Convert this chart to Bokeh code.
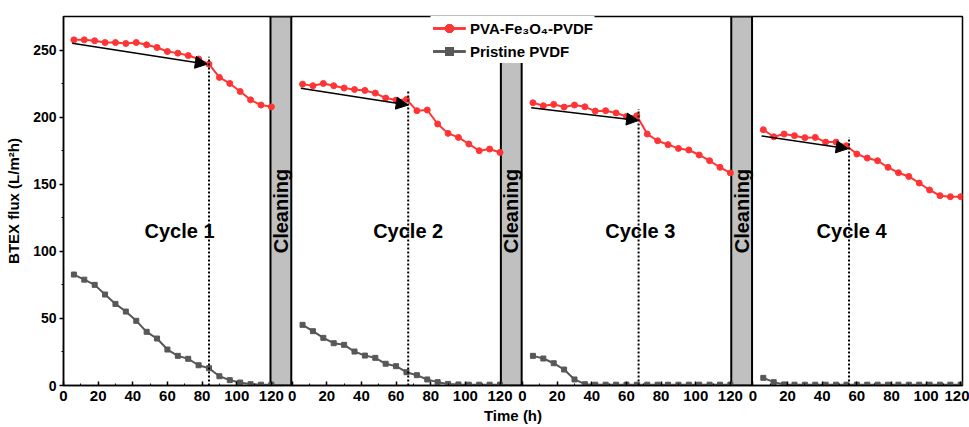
import numpy as np
from bokeh.plotting import figure
from bokeh.models import Range1d, FixedTicker, Arrow, NormalHead
from bokeh.core.properties import value
from bokeh.embed import file_html
from bokeh.resources import INLINE

# ---------------- data ----------------
time_h = [6, 12, 18, 24, 30, 36, 42, 48, 54, 60, 66, 72, 78, 84, 90, 96, 102, 108, 114, 120]

pva_cycle1 = [257.6, 257.6, 256.9, 255.6, 255.6, 254.9, 255.6, 253.9, 251.9, 248.9,
              247.7, 245.9, 243.3, 239.5, 229.6, 225.1, 219.1, 212.9, 209.0, 207.7]
pva_cycle2 = [224.6, 223.4, 225.1, 223.4, 221.7, 220.6, 219.9, 217.9, 214.2, 212.7,
              213.2, 204.8, 205.3, 194.9, 187.9, 184.9, 180.0, 175.0, 176.2, 173.7]
pva_cycle3 = [210.7, 208.5, 209.5, 207.5, 209.0, 207.7, 204.5, 204.8, 203.1, 200.5,
              201.0, 187.4, 182.4, 179.5, 176.7, 175.5, 171.8, 167.5, 162.6, 158.4]
pva_cycle4 = [190.6, 185.4, 187.4, 186.2, 184.7, 184.9, 181.4, 181.4, 178.7, 172.5,
              169.5, 167.5, 162.6, 158.6, 155.8, 150.9, 145.7, 141.5, 140.7, 140.7]

pristine_cycle1 = [82.7, 78.9, 75.0, 67.8, 60.8, 55.1, 48.2, 40.0, 35.0, 26.8,
                   22.1, 19.9, 15.1, 12.9, 6.9, 4.0, 2.2, 1.0, 0.6, 0.6]
pristine_cycle2 = [45.2, 40.5, 35.5, 31.5, 30.3, 25.3, 22.3, 20.6, 16.2, 14.4,
                   9.9, 7.7, 4.5, 2.5, 1.2, 0.8, 0.6, 0.6, 0.6, 0.6]
pristine_cycle3 = [22.1, 20.1, 16.6, 11.9, 4.5, 1.0, 0.6, 0.6, 0.6, 0.6,
                   0.6, 0.6, 0.6, 0.6, 0.6, 0.6, 0.6, 0.6, 0.6, 0.6]
pristine_cycle4 = [5.7, 2.5, 0.8, 0.6, 0.6, 0.6, 0.6, 0.6, 0.6, 0.6,
                   0.6, 0.6, 0.6, 0.6, 0.6, 0.6, 0.6, 0.6, 0.6, 0.6]

cycle_labels = ["Cycle 1", "Cycle 2", "Cycle 3", "Cycle 4"]
cycle_label_time = [67, 67, 68, 57]
cycle_label_flux = [115, 115, 115, 115]

cut_time = [84, 67, 67, 55.5]          # dotted vertical line positions
cut_flux = [245, 220, 206, 185]        # dotted line tops

arrow_t0 = [5, 5, 5, 5]
arrow_f0 = [255, 221.5, 207, 186]
arrow_t1 = [83, 67, 67, 55]
arrow_f1 = [239.5, 209, 197.5, 176.5]

x_tick_values = [0, 20, 40, 60, 80, 100, 120]
x_minor_values = [10, 30, 50, 70, 90, 110]
y_tick_values = [0, 50, 100, 150, 200, 250]
y_minor_values = [25, 75, 125, 175, 225]

cleaning_label = "Cleaning"
cleaning_flux = 130

# ---------------- layout constants ----------------
FONT = "Liberation Sans"
RED = "#ff3535"
GRAY = "#585858"
offsets = [0, 132, 265, 398]   # panel origins on the shared x scale
CLEAN_W = 12.5
Y_TOP = 275

p = figure(width=969, height=427, output_backend="svg", toolbar_location=None,
           x_range=Range1d(0, 519), y_range=Range1d(0, Y_TOP),
           min_border_left=63, min_border_top=16, min_border_right=7, min_border_bottom=42)
p.xgrid.visible = False
p.ygrid.visible = False
p.outline_line_color = "black"
p.outline_line_width = 1.5
p.background_fill_color = "white"
p.border_fill_color = "white"

# cleaning bars
bar_left = [o - CLEAN_W for o in offsets[1:]]
bar_right = [o - 0.5 for o in offsets[1:]]
p.quad(left=bar_left, right=bar_right, bottom=0, top=Y_TOP,
       fill_color="#c0c0c0", line_color="black", line_width=2)
bar_mid = [(l + r) / 2 for l, r in zip(bar_left, bar_right)]
p.text(x=bar_mid, y=[cleaning_flux] * 3, text=[cleaning_label] * 3, angle=np.pi / 2,
       text_font=value(FONT), text_font_style="bold", text_font_size="20px",
       text_align="center", text_baseline="middle", text_color="black")

pva_all = [pva_cycle1, pva_cycle2, pva_cycle3, pva_cycle4]
pri_all = [pristine_cycle1, pristine_cycle2, pristine_cycle3, pristine_cycle4]
PVA_LABEL = "PVA-Fe\u2083O\u2084-PVDF"
PRI_LABEL = "Pristine PVDF"

for k in range(4):
    xs = [offsets[k] + t for t in time_h]
    p.line(xs, pva_all[k], line_color=RED, line_width=2, legend_label=PVA_LABEL)
    p.scatter(xs, pva_all[k], marker="circle", size=6, fill_color=RED, line_color=RED,
              legend_label=PVA_LABEL)
    p.line(xs, pri_all[k], line_color=GRAY, line_width=2, legend_label=PRI_LABEL)
    p.scatter(xs, pri_all[k], marker="square", size=5, fill_color=GRAY, line_color=GRAY,
              legend_label=PRI_LABEL)

# dotted lines
cut_x = [offsets[k] + cut_time[k] for k in range(4)]
p.segment(x0=cut_x, y0=[0] * 4, x1=cut_x, y1=cut_flux, line_color="black",
          line_width=2, line_dash="2 2")

# arrows
for k in range(4):
    p.add_layout(Arrow(end=NormalHead(size=12, fill_color="black", line_color="black"),
                       x_start=offsets[k] + arrow_t0[k], y_start=arrow_f0[k],
                       x_end=offsets[k] + arrow_t1[k], y_end=arrow_f1[k],
                       line_color="black", line_width=1.5))

# cycle labels
p.text(x=[offsets[k] + cycle_label_time[k] for k in range(4)], y=cycle_label_flux,
       text=cycle_labels, text_font=value(FONT), text_font_style="bold",
       text_font_size="20px", text_align="center", text_baseline="middle",
       text_color="black")

# axes
ticks, minors, overrides = [], [], {}
for o in offsets:
    for t in x_tick_values:
        ticks.append(o + t)
        overrides[o + t] = str(t)
    for t in x_minor_values:
        minors.append(o + t)
p.xaxis.ticker = FixedTicker(ticks=ticks, minor_ticks=minors)
p.xaxis.major_label_overrides = overrides
p.xaxis.axis_label = "Time (h)"
p.xaxis.major_tick_in = 4
p.xaxis.major_tick_out = 0
p.xaxis.minor_tick_in = 2
p.xaxis.minor_tick_out = 0
p.xaxis.major_label_standoff = 5
p.xaxis.axis_label_standoff = 3

p.yaxis.ticker = FixedTicker(ticks=y_tick_values, minor_ticks=y_minor_values)
p.yaxis.axis_label = "BTEX flux (L/m\u00b2h)"
p.yaxis.major_tick_in = 0
p.yaxis.major_tick_out = 4
p.yaxis.minor_tick_in = 0
p.yaxis.minor_tick_out = 2
p.yaxis.major_label_standoff = 3
p.yaxis.axis_label_standoff = 8

for ax in (p.xaxis[0], p.yaxis[0]):
    ax.axis_line_color = "black"
    ax.axis_line_width = 1.5
    ax.major_tick_line_color = "black"
    ax.major_tick_line_width = 1.5
    ax.minor_tick_line_color = "black"
    ax.minor_tick_line_width = 1
    ax.major_label_text_font = FONT
    ax.major_label_text_font_style = "bold"
    ax.major_label_text_color = "black"
    ax.axis_label_text_font = FONT
    ax.axis_label_text_font_style = "bold"
    ax.axis_label_text_font_size = "15px"
    ax.axis_label_text_color = "black"
p.xaxis.major_label_text_font_size = "15px"
p.yaxis.major_label_text_font_size = "14px"

# legend
lg = p.legend[0]
lg.location = "top_center"
lg.margin = 0
lg.padding = 2
lg.spacing = 3
lg.label_height = 20
lg.glyph_height = 20
lg.glyph_width = 33
lg.label_standoff = 5
lg.label_text_font = FONT
lg.label_text_font_style = "bold"
lg.label_text_font_size = "15px"
lg.label_text_color = "black"
lg.border_line_alpha = 0
lg.background_fill_color = "white"
lg.background_fill_alpha = 1

open("out.html", "w").write(file_html(p, INLINE))
